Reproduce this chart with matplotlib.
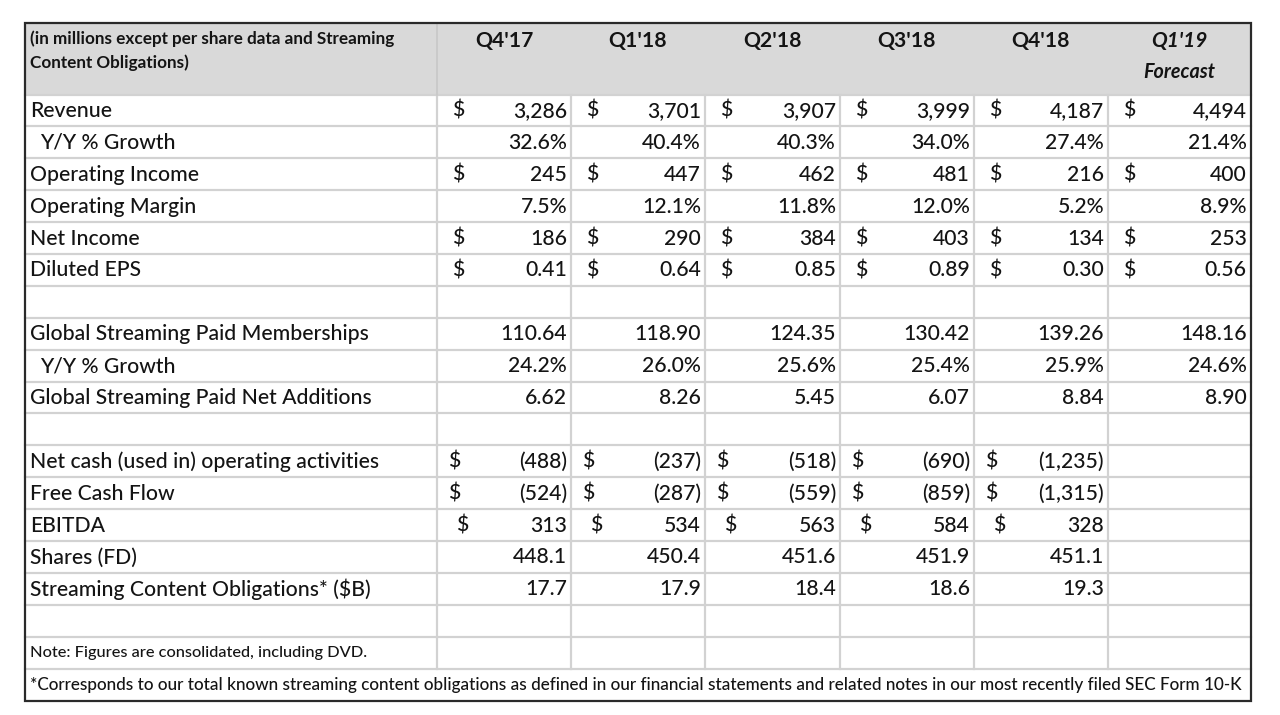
import matplotlib
matplotlib.use("Agg")
import matplotlib.pyplot as plt

plt.rcParams['font.family'] = ['Lato', 'DejaVu Sans']

# ---------------- data ----------------
header_note = "(in millions except per share data and Streaming\nContent Obligations)"
quarters = ["Q4'17", "Q1'18", "Q2'18", "Q3'18", "Q4'18"]
forecast_label = ["Q1'19", "Forecast"]

revenue = [3286, 3701, 3907, 3999, 4187, 4494]
revenue_growth = [32.6, 40.4, 40.3, 34.0, 27.4, 21.4]
operating_income = [245, 447, 462, 481, 216, 400]
operating_margin = [7.5, 12.1, 11.8, 12.0, 5.2, 8.9]
net_income = [186, 290, 384, 403, 134, 253]
diluted_eps = [0.41, 0.64, 0.85, 0.89, 0.30, 0.56]
paid_memberships = [110.64, 118.90, 124.35, 130.42, 139.26, 148.16]
membership_growth = [24.2, 26.0, 25.6, 25.4, 25.9, 24.6]
paid_net_adds = [6.62, 8.26, 5.45, 6.07, 8.84, 8.90]
net_cash_ops = [-488, -237, -518, -690, -1235]
free_cash_flow = [-524, -287, -559, -859, -1315]
ebitda = [313, 534, 563, 584, 328]
shares_fd = [448.1, 450.4, 451.6, 451.9, 451.1]
content_obligations = [17.7, 17.9, 18.4, 18.6, 19.3]

note_text = "Note: Figures are consolidated, including DVD."
footnote_text = ("*Corresponds to our total known streaming content obligations as defined in our "
                 "financial statements and related notes in our most recently filed SEC Form 10-K")


def fmt_int(v):
    return f"({abs(v):,})" if v < 0 else f"{v:,}"


def fmt_pct(v):
    return f"{v:.1f}%"


def fmt2(v):
    return f"{v:.2f}"


def fmt1(v):
    return f"{v:.1f}"


# (label, values, formatter, dollar, indent, dollar_style)
rows = [
    ("Revenue", revenue, fmt_int, True, False, 0),
    ("Y/Y % Growth", revenue_growth, fmt_pct, False, True, 0),
    ("Operating Income", operating_income, fmt_int, True, False, 0),
    ("Operating Margin", operating_margin, fmt_pct, False, False, 0),
    ("Net Income", net_income, fmt_int, True, False, 0),
    ("Diluted EPS", diluted_eps, fmt2, True, False, 0),
    ("", [], None, False, False, 0),
    ("Global Streaming Paid Memberships", paid_memberships, fmt2, False, False, 0),
    ("Y/Y % Growth", membership_growth, fmt_pct, False, True, 0),
    ("Global Streaming Paid Net Additions", paid_net_adds, fmt2, False, False, 0),
    ("", [], None, False, False, 0),
    ("Net cash (used in) operating activities", net_cash_ops, fmt_int, True, False, -1),
    ("Free Cash Flow", free_cash_flow, fmt_int, True, False, -1),
    ("EBITDA", ebitda, fmt_int, True, False, 1),
    ("Shares (FD)", shares_fd, fmt1, False, False, 0),
    ("Streaming Content Obligations* ($B)", content_obligations, fmt1, False, False, 0),
    ("", [], None, False, False, 0),
]

# ---------------- layout ----------------
W, H = 1280, 715
fig = plt.figure(figsize=(W / 100, H / 100), dpi=100)
ax = fig.add_axes([0, 0, 1, 1])
ax.set_xlim(0, W)
ax.set_ylim(H, 0)
ax.axis("off")

left, right = 25, 1250.5
top, header_bottom, bottom = 23.3, 94.5, 700.5
col_edges = [25, 437, 571, 705, 840, 974, 1108, 1250.5]
n_rows = len(rows) + 2  # + note + footnote
row_h = (bottom - header_bottom) / n_rows
row_edges = [header_bottom + i * row_h for i in range(n_rows + 1)]

grid_c = "#d2d2d2"
text_c = "#141414"
fs = 15.2
fw = "medium"

# header fill
ax.add_patch(plt.Rectangle((left, top), right - left, header_bottom - top,
                           facecolor="#d9d9d9", edgecolor="none", zorder=0))

# horizontal grid lines
for y in row_edges[:-1]:
    ax.plot([left, right], [y, y], color=grid_c, lw=1.6, zorder=1)
# vertical grid lines (not through footnote row)
for x in col_edges[1:-1]:
    ax.plot([x, x], [header_bottom, row_edges[-2]], color=grid_c, lw=1.6, zorder=1)
ax.plot([col_edges[1], col_edges[1]], [top, header_bottom], color="#c8c8c8", lw=1.2, zorder=1)

# outer border
ax.add_patch(plt.Rectangle((left, top), right - left, bottom - top,
                           facecolor="none", edgecolor="#2a2a2a", lw=1.6, zorder=3))

# header texts
ax.text(30, 30.0, header_note, ha="left", va="top", fontsize=12.3, fontweight="bold",
        color=text_c, linespacing=1.55)
for i, q in enumerate(quarters):
    cx = (col_edges[i + 1] + col_edges[i + 2]) / 2
    ax.text(cx, 41.5, q, ha="center", va="center", fontsize=15.2, fontweight="bold", color=text_c)
cx = (col_edges[6] + col_edges[7]) / 2
ax.text(cx, 41.5, forecast_label[0], ha="center", va="center", fontsize=15,
        fontweight="bold", style="italic", color=text_c)
ax.text(cx, 71.5, forecast_label[1], ha="center", va="center", fontsize=14.2,
        fontweight="bold", style="italic", color=text_c)

# body rows
for r, (label, vals, fmt, dollar, indent, dstyle) in enumerate(rows):
    yc = (row_edges[r] + row_edges[r + 1]) / 2 + 0.5
    if label:
        ax.text(40 if indent else 30, yc, label, ha="left", va="center",
                fontsize=fs, fontweight=fw, color=text_c)
    for i, v in enumerate(vals):
        cl, cr = col_edges[i + 1], col_edges[i + 2]
        ax.text(cr - 4, yc, fmt(v), ha="right", va="center", fontsize=fs,
                fontweight=fw, color=text_c)
        if dollar:
            dx = {0: 15, -1: 11, 1: 19}[dstyle]
            ax.text(cl + dx, yc, "$", ha="left", va="center", fontsize=fs,
                    fontweight=fw, color=text_c)

# note + footnote
r = len(rows)
yc = (row_edges[r] + row_edges[r + 1]) / 2 + 0.5
ax.text(30, yc, note_text, ha="left", va="center", fontsize=11.8, fontweight=fw, color=text_c)
yc = (row_edges[r + 1] + row_edges[r + 2]) / 2 + 0.5
ax.text(30, yc, footnote_text, ha="left", va="center", fontsize=12.3, fontweight=fw, color=text_c)

fig.savefig("out.png", dpi=100, facecolor="white")
